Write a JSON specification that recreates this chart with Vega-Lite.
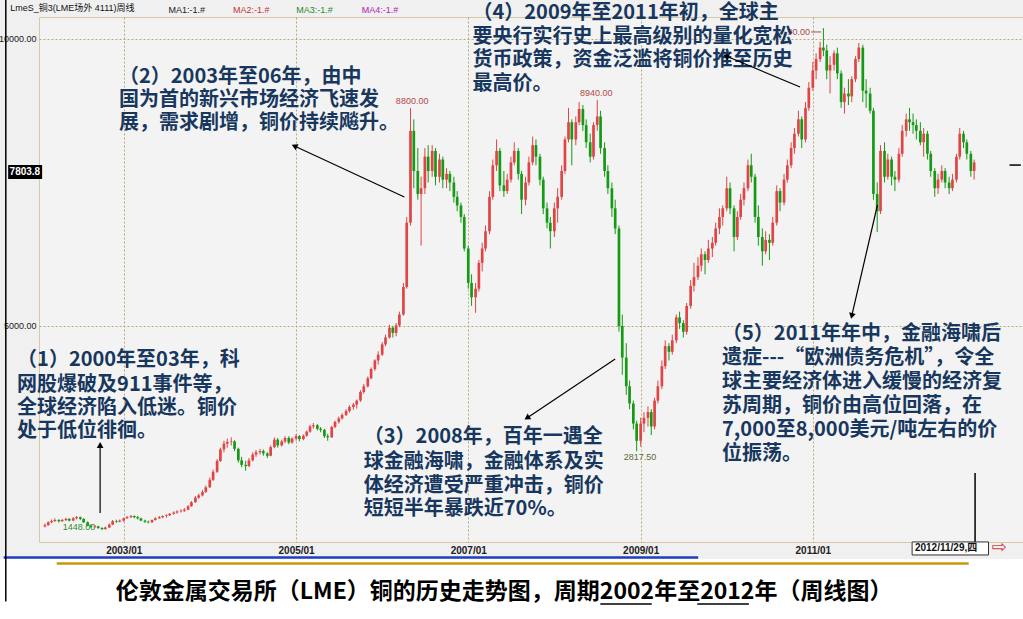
{
"$schema": "https://vega.github.io/schema/vega-lite/v6.json",
"width": 984, "height": 525,
"autosize": {"type": "none"},
"padding": {"left": 39, "top": 17, "right": 0, "bottom": 77},
"background": "#F0F0F0",
"config": {"view": {"stroke": "#D6C9A3", "fill": "#F3F3F3", "strokeWidth": 1},
"axis": {"grid": true, "gridDash": [2,2], "gridColor": "#B8A878", "gridOpacity": 1, "ticks": false, "domain": false, "title": null, "labelColor": "#202020", "labelFont": "Liberation Sans"}},
"datasets": {
"k": [
{"t":"2002-02-01","o":1510,"h":1560,"l":1490,"c":1530},
{"t":"2002-02-15","o":1530,"h":1600,"l":1520,"c":1580},
{"t":"2002-03-01","o":1580,"h":1630,"l":1565,"c":1600},
{"t":"2002-03-15","o":1600,"h":1650,"l":1590,"c":1620},
{"t":"2002-04-01","o":1620,"h":1635,"l":1575,"c":1600},
{"t":"2002-04-15","o":1600,"h":1640,"l":1585,"c":1620},
{"t":"2002-05-01","o":1620,"h":1660,"l":1600,"c":1640},
{"t":"2002-05-15","o":1640,"h":1650,"l":1595,"c":1610},
{"t":"2002-06-01","o":1610,"h":1670,"l":1600,"c":1650},
{"t":"2002-06-15","o":1650,"h":1690,"l":1630,"c":1670},
{"t":"2002-07-01","o":1670,"h":1680,"l":1620,"c":1640},
{"t":"2002-07-15","o":1640,"h":1650,"l":1570,"c":1580},
{"t":"2002-08-01","o":1580,"h":1595,"l":1510,"c":1520},
{"t":"2002-08-15","o":1520,"h":1545,"l":1485,"c":1500},
{"t":"2002-09-01","o":1500,"h":1535,"l":1480,"c":1510},
{"t":"2002-09-15","o":1510,"h":1520,"l":1465,"c":1480},
{"t":"2002-10-01","o":1480,"h":1495,"l":1448,"c":1460},
{"t":"2002-10-15","o":1460,"h":1505,"l":1455,"c":1490},
{"t":"2002-11-01","o":1490,"h":1560,"l":1480,"c":1540},
{"t":"2002-11-15","o":1540,"h":1620,"l":1530,"c":1600},
{"t":"2002-12-01","o":1600,"h":1625,"l":1570,"c":1590},
{"t":"2002-12-15","o":1590,"h":1630,"l":1580,"c":1610},
{"t":"2003-01-01","o":1610,"h":1660,"l":1590,"c":1650},
{"t":"2003-01-15","o":1650,"h":1690,"l":1640,"c":1670},
{"t":"2003-02-01","o":1670,"h":1710,"l":1655,"c":1690},
{"t":"2003-02-15","o":1690,"h":1700,"l":1650,"c":1670},
{"t":"2003-03-01","o":1670,"h":1690,"l":1630,"c":1650},
{"t":"2003-03-15","o":1650,"h":1660,"l":1600,"c":1610},
{"t":"2003-04-01","o":1610,"h":1625,"l":1570,"c":1590},
{"t":"2003-04-15","o":1590,"h":1610,"l":1560,"c":1580},
{"t":"2003-05-01","o":1580,"h":1630,"l":1570,"c":1620},
{"t":"2003-05-15","o":1620,"h":1670,"l":1610,"c":1650},
{"t":"2003-06-01","o":1650,"h":1690,"l":1640,"c":1670},
{"t":"2003-06-15","o":1670,"h":1700,"l":1650,"c":1690},
{"t":"2003-07-01","o":1690,"h":1720,"l":1660,"c":1700},
{"t":"2003-07-15","o":1700,"h":1740,"l":1690,"c":1730},
{"t":"2003-08-01","o":1730,"h":1770,"l":1710,"c":1750},
{"t":"2003-08-15","o":1750,"h":1790,"l":1730,"c":1770},
{"t":"2003-09-01","o":1770,"h":1810,"l":1750,"c":1780},
{"t":"2003-09-15","o":1780,"h":1830,"l":1760,"c":1800},
{"t":"2003-10-01","o":1800,"h":1880,"l":1790,"c":1860},
{"t":"2003-10-15","o":1860,"h":1950,"l":1850,"c":1930},
{"t":"2003-11-01","o":1930,"h":2040,"l":1920,"c":2010},
{"t":"2003-11-15","o":2010,"h":2080,"l":1990,"c":2050},
{"t":"2003-12-01","o":2050,"h":2140,"l":2030,"c":2110},
{"t":"2003-12-15","o":2110,"h":2220,"l":2090,"c":2190},
{"t":"2004-01-01","o":2190,"h":2360,"l":2180,"c":2320},
{"t":"2004-01-15","o":2320,"h":2500,"l":2300,"c":2460},
{"t":"2004-02-01","o":2460,"h":2680,"l":2440,"c":2650},
{"t":"2004-02-15","o":2650,"h":2880,"l":2630,"c":2850},
{"t":"2004-03-01","o":2850,"h":3000,"l":2800,"c":2950},
{"t":"2004-03-15","o":2950,"h":3040,"l":2880,"c":2980},
{"t":"2004-04-01","o":2980,"h":3060,"l":2920,"c":2990},
{"t":"2004-04-15","o":2990,"h":3010,"l":2820,"c":2860},
{"t":"2004-05-01","o":2860,"h":2880,"l":2620,"c":2660},
{"t":"2004-05-15","o":2660,"h":2720,"l":2540,"c":2580},
{"t":"2004-06-01","o":2580,"h":2650,"l":2480,"c":2560},
{"t":"2004-06-15","o":2560,"h":2700,"l":2540,"c":2660},
{"t":"2004-07-01","o":2660,"h":2800,"l":2640,"c":2760},
{"t":"2004-07-15","o":2760,"h":2840,"l":2720,"c":2800},
{"t":"2004-08-01","o":2800,"h":2860,"l":2760,"c":2820},
{"t":"2004-08-15","o":2820,"h":2850,"l":2740,"c":2780},
{"t":"2004-09-01","o":2780,"h":2800,"l":2700,"c":2740},
{"t":"2004-09-15","o":2740,"h":2920,"l":2730,"c":2890},
{"t":"2004-10-01","o":2890,"h":3060,"l":2870,"c":3020},
{"t":"2004-10-15","o":3020,"h":3050,"l":2880,"c":2920},
{"t":"2004-11-01","o":2920,"h":3020,"l":2900,"c":2990},
{"t":"2004-11-15","o":2990,"h":3080,"l":2960,"c":3050},
{"t":"2004-12-01","o":3050,"h":3080,"l":2940,"c":2970},
{"t":"2004-12-15","o":2970,"h":3060,"l":2950,"c":3040},
{"t":"2005-01-01","o":3040,"h":3120,"l":3000,"c":3080},
{"t":"2005-01-15","o":3080,"h":3100,"l":2990,"c":3030},
{"t":"2005-02-01","o":3030,"h":3110,"l":3010,"c":3090},
{"t":"2005-02-15","o":3090,"h":3180,"l":3070,"c":3160},
{"t":"2005-03-01","o":3160,"h":3280,"l":3140,"c":3250},
{"t":"2005-03-15","o":3250,"h":3310,"l":3210,"c":3270},
{"t":"2005-04-01","o":3270,"h":3290,"l":3180,"c":3210},
{"t":"2005-04-15","o":3210,"h":3240,"l":3150,"c":3190},
{"t":"2005-05-01","o":3190,"h":3210,"l":3050,"c":3080},
{"t":"2005-05-15","o":3080,"h":3120,"l":3000,"c":3060},
{"t":"2005-06-01","o":3060,"h":3260,"l":3050,"c":3240},
{"t":"2005-06-15","o":3240,"h":3350,"l":3220,"c":3330},
{"t":"2005-07-01","o":3330,"h":3420,"l":3300,"c":3390},
{"t":"2005-07-15","o":3390,"h":3480,"l":3370,"c":3450},
{"t":"2005-08-01","o":3450,"h":3550,"l":3430,"c":3520},
{"t":"2005-08-15","o":3520,"h":3620,"l":3490,"c":3590},
{"t":"2005-09-01","o":3590,"h":3660,"l":3540,"c":3630},
{"t":"2005-09-15","o":3630,"h":3720,"l":3560,"c":3700},
{"t":"2005-10-01","o":3700,"h":3880,"l":3680,"c":3850},
{"t":"2005-10-15","o":3850,"h":3990,"l":3820,"c":3950},
{"t":"2005-11-01","o":3950,"h":4120,"l":3930,"c":4090},
{"t":"2005-11-15","o":4090,"h":4280,"l":4070,"c":4250},
{"t":"2005-12-01","o":4250,"h":4420,"l":4220,"c":4400},
{"t":"2005-12-15","o":4400,"h":4560,"l":4330,"c":4500},
{"t":"2006-01-01","o":4500,"h":4720,"l":4480,"c":4680},
{"t":"2006-01-15","o":4680,"h":4850,"l":4650,"c":4800},
{"t":"2006-02-01","o":4800,"h":5020,"l":4780,"c":4970},
{"t":"2006-02-15","o":4970,"h":5000,"l":4800,"c":4880},
{"t":"2006-03-01","o":4880,"h":5050,"l":4820,"c":5010},
{"t":"2006-03-15","o":5010,"h":5250,"l":4980,"c":5200},
{"t":"2006-04-01","o":5200,"h":5750,"l":5180,"c":5680},
{"t":"2006-04-15","o":5680,"h":6900,"l":5650,"c":6800},
{"t":"2006-05-01","o":6800,"h":8800,"l":6750,"c":8400},
{"t":"2006-05-15","o":8400,"h":8600,"l":7400,"c":7700},
{"t":"2006-06-01","o":7700,"h":8100,"l":7200,"c":7300},
{"t":"2006-06-15","o":7300,"h":7600,"l":6400,"c":7400},
{"t":"2006-07-01","o":7400,"h":8100,"l":7300,"c":7950},
{"t":"2006-07-15","o":7950,"h":8150,"l":7500,"c":7700},
{"t":"2006-08-01","o":7700,"h":8150,"l":7600,"c":8050},
{"t":"2006-08-15","o":8050,"h":8100,"l":7450,"c":7600},
{"t":"2006-09-01","o":7600,"h":8000,"l":7500,"c":7900},
{"t":"2006-09-15","o":7900,"h":7950,"l":7400,"c":7550},
{"t":"2006-10-01","o":7550,"h":7750,"l":7400,"c":7650},
{"t":"2006-10-15","o":7650,"h":7700,"l":7350,"c":7500},
{"t":"2006-11-01","o":7500,"h":7600,"l":7150,"c":7250},
{"t":"2006-11-15","o":7250,"h":7350,"l":7000,"c":7100},
{"t":"2006-12-01","o":7100,"h":7150,"l":6800,"c":6900},
{"t":"2006-12-15","o":6900,"h":6950,"l":6300,"c":6350},
{"t":"2007-01-01","o":6350,"h":6400,"l":5650,"c":5750},
{"t":"2007-01-15","o":5750,"h":5900,"l":5350,"c":5500},
{"t":"2007-02-01","o":5500,"h":5750,"l":5230,"c":5650},
{"t":"2007-02-15","o":5650,"h":6150,"l":5600,"c":6100},
{"t":"2007-03-01","o":6100,"h":6450,"l":5950,"c":6350},
{"t":"2007-03-15","o":6350,"h":6750,"l":6300,"c":6650},
{"t":"2007-04-01","o":6650,"h":7350,"l":6600,"c":7250},
{"t":"2007-04-15","o":7250,"h":7900,"l":7200,"c":7800},
{"t":"2007-05-01","o":7800,"h":8250,"l":7700,"c":8050},
{"t":"2007-05-15","o":8050,"h":8100,"l":7350,"c":7450},
{"t":"2007-06-01","o":7450,"h":7700,"l":7250,"c":7350},
{"t":"2007-06-15","o":7350,"h":7650,"l":7300,"c":7550},
{"t":"2007-07-01","o":7550,"h":7950,"l":7500,"c":7850},
{"t":"2007-07-15","o":7850,"h":8200,"l":7800,"c":8050},
{"t":"2007-08-01","o":8050,"h":8100,"l":7550,"c":7650},
{"t":"2007-08-15","o":7650,"h":7700,"l":6950,"c":7200},
{"t":"2007-09-01","o":7200,"h":7600,"l":7100,"c":7500},
{"t":"2007-09-15","o":7500,"h":7950,"l":7450,"c":7850},
{"t":"2007-10-01","o":7850,"h":8300,"l":7800,"c":8150},
{"t":"2007-10-15","o":8150,"h":8250,"l":7800,"c":7950},
{"t":"2007-11-01","o":7950,"h":8000,"l":7450,"c":7550},
{"t":"2007-11-15","o":7550,"h":7600,"l":6950,"c":7050},
{"t":"2007-12-01","o":7050,"h":7150,"l":6700,"c":6800},
{"t":"2007-12-15","o":6800,"h":6900,"l":6350,"c":6650},
{"t":"2008-01-01","o":6650,"h":7150,"l":6550,"c":7050},
{"t":"2008-01-15","o":7050,"h":7400,"l":6800,"c":7250},
{"t":"2008-02-01","o":7250,"h":7800,"l":7200,"c":7700},
{"t":"2008-02-15","o":7700,"h":8300,"l":7650,"c":8250},
{"t":"2008-03-01","o":8250,"h":8800,"l":8200,"c":8550},
{"t":"2008-03-15","o":8550,"h":8600,"l":7800,"c":8250},
{"t":"2008-04-01","o":8250,"h":8650,"l":8150,"c":8550},
{"t":"2008-04-15","o":8550,"h":8900,"l":8500,"c":8780},
{"t":"2008-05-01","o":8780,"h":8850,"l":8400,"c":8500},
{"t":"2008-05-15","o":8500,"h":8600,"l":8100,"c":8200},
{"t":"2008-06-01","o":8200,"h":8350,"l":7850,"c":7950},
{"t":"2008-06-15","o":7950,"h":8550,"l":7900,"c":8500},
{"t":"2008-07-01","o":8500,"h":8940,"l":8400,"c":8650},
{"t":"2008-07-15","o":8650,"h":8750,"l":8000,"c":8100},
{"t":"2008-08-01","o":8100,"h":8200,"l":7600,"c":7700},
{"t":"2008-08-15","o":7700,"h":7800,"l":7300,"c":7400},
{"t":"2008-09-01","o":7400,"h":7500,"l":6900,"c":7050},
{"t":"2008-09-15","o":7050,"h":7200,"l":6600,"c":6700},
{"t":"2008-10-01","o":6700,"h":6750,"l":4900,"c":5000},
{"t":"2008-10-15","o":5000,"h":5200,"l":4150,"c":4450},
{"t":"2008-11-01","o":4450,"h":4700,"l":3800,"c":3950},
{"t":"2008-11-15","o":3950,"h":4050,"l":3550,"c":3650},
{"t":"2008-12-01","o":3650,"h":3700,"l":3200,"c":3300},
{"t":"2008-12-15","o":3300,"h":3350,"l":2817.5,"c":3000},
{"t":"2009-01-01","o":3000,"h":3400,"l":2900,"c":3300},
{"t":"2009-01-15","o":3300,"h":3500,"l":3150,"c":3400},
{"t":"2009-02-01","o":3400,"h":3600,"l":3250,"c":3500},
{"t":"2009-02-15","o":3500,"h":3550,"l":3100,"c":3250},
{"t":"2009-03-01","o":3250,"h":3750,"l":3200,"c":3700},
{"t":"2009-03-15","o":3700,"h":4050,"l":3650,"c":3950},
{"t":"2009-04-01","o":3950,"h":4400,"l":3900,"c":4300},
{"t":"2009-04-15","o":4300,"h":4750,"l":4250,"c":4650},
{"t":"2009-05-01","o":4650,"h":4700,"l":4400,"c":4550},
{"t":"2009-05-15","o":4550,"h":4850,"l":4500,"c":4750},
{"t":"2009-06-01","o":4750,"h":5200,"l":4700,"c":5150},
{"t":"2009-06-15","o":5150,"h":5250,"l":4950,"c":5050},
{"t":"2009-07-01","o":5050,"h":5100,"l":4800,"c":4900},
{"t":"2009-07-15","o":4900,"h":5400,"l":4850,"c":5350},
{"t":"2009-08-01","o":5350,"h":5800,"l":5300,"c":5700},
{"t":"2009-08-15","o":5700,"h":6100,"l":5600,"c":5850},
{"t":"2009-09-01","o":5850,"h":6200,"l":5800,"c":6050},
{"t":"2009-09-15","o":6050,"h":6350,"l":5950,"c":6250},
{"t":"2009-10-01","o":6250,"h":6300,"l":5900,"c":6150},
{"t":"2009-10-15","o":6150,"h":6500,"l":6100,"c":6350},
{"t":"2009-11-01","o":6350,"h":6550,"l":6200,"c":6450},
{"t":"2009-11-15","o":6450,"h":6800,"l":6400,"c":6700},
{"t":"2009-12-01","o":6700,"h":7050,"l":6600,"c":6900},
{"t":"2009-12-15","o":6900,"h":7100,"l":6750,"c":7050},
{"t":"2010-01-01","o":7050,"h":7600,"l":7000,"c":7400},
{"t":"2010-01-15","o":7400,"h":7500,"l":6950,"c":7050},
{"t":"2010-02-01","o":7050,"h":7100,"l":6300,"c":6550},
{"t":"2010-02-15","o":6550,"h":7000,"l":6500,"c":6900},
{"t":"2010-03-01","o":6900,"h":7300,"l":6850,"c":7200},
{"t":"2010-03-15","o":7200,"h":7500,"l":7100,"c":7400},
{"t":"2010-04-01","o":7400,"h":7900,"l":7350,"c":7800},
{"t":"2010-04-15","o":7800,"h":8000,"l":7500,"c":7600},
{"t":"2010-05-01","o":7600,"h":7650,"l":6800,"c":6900},
{"t":"2010-05-15","o":6900,"h":7100,"l":6400,"c":6550},
{"t":"2010-06-01","o":6550,"h":6700,"l":6050,"c":6300},
{"t":"2010-06-15","o":6300,"h":6650,"l":6250,"c":6500},
{"t":"2010-07-01","o":6500,"h":6600,"l":6150,"c":6450},
{"t":"2010-07-15","o":6450,"h":6900,"l":6400,"c":6800},
{"t":"2010-08-01","o":6800,"h":7450,"l":6750,"c":7350},
{"t":"2010-08-15","o":7350,"h":7400,"l":7000,"c":7150},
{"t":"2010-09-01","o":7150,"h":7650,"l":7100,"c":7550},
{"t":"2010-09-15","o":7550,"h":7900,"l":7500,"c":7800},
{"t":"2010-10-01","o":7800,"h":8200,"l":7750,"c":8100},
{"t":"2010-10-15","o":8100,"h":8450,"l":8000,"c":8350},
{"t":"2010-11-01","o":8350,"h":8750,"l":8300,"c":8600},
{"t":"2010-11-15","o":8600,"h":8650,"l":8100,"c":8250},
{"t":"2010-12-01","o":8250,"h":8900,"l":8200,"c":8800},
{"t":"2010-12-15","o":8800,"h":9250,"l":8750,"c":9150},
{"t":"2011-01-01","o":9150,"h":9600,"l":9100,"c":9450},
{"t":"2011-01-15","o":9450,"h":9750,"l":9300,"c":9650},
{"t":"2011-02-01","o":9650,"h":9950,"l":9600,"c":9850},
{"t":"2011-02-15","o":9850,"h":10190,"l":9700,"c":9800},
{"t":"2011-03-01","o":9800,"h":9900,"l":9300,"c":9450},
{"t":"2011-03-15","o":9450,"h":9700,"l":9050,"c":9550},
{"t":"2011-04-01","o":9550,"h":9800,"l":9450,"c":9750},
{"t":"2011-04-15","o":9750,"h":9850,"l":9300,"c":9400},
{"t":"2011-05-01","o":9400,"h":9450,"l":8800,"c":8900},
{"t":"2011-05-15","o":8900,"h":9150,"l":8700,"c":9050},
{"t":"2011-06-01","o":9050,"h":9300,"l":8850,"c":9000},
{"t":"2011-06-15","o":9000,"h":9350,"l":8900,"c":9300},
{"t":"2011-07-01","o":9300,"h":9700,"l":9250,"c":9650},
{"t":"2011-07-15","o":9650,"h":9930,"l":9600,"c":9850},
{"t":"2011-08-01","o":9850,"h":9900,"l":8900,"c":9100},
{"t":"2011-08-15","o":9100,"h":9300,"l":8800,"c":9050},
{"t":"2011-09-01","o":9050,"h":9150,"l":8700,"c":8750},
{"t":"2011-09-15","o":8750,"h":8800,"l":7200,"c":7300},
{"t":"2011-10-01","o":7300,"h":7500,"l":6635,"c":7000},
{"t":"2011-10-15","o":7000,"h":8150,"l":6950,"c":8050},
{"t":"2011-11-01","o":8050,"h":8200,"l":7500,"c":7600},
{"t":"2011-11-15","o":7600,"h":8000,"l":7550,"c":7900},
{"t":"2011-12-01","o":7900,"h":7950,"l":7450,"c":7600},
{"t":"2011-12-15","o":7600,"h":7700,"l":7350,"c":7550},
{"t":"2012-01-01","o":7550,"h":8100,"l":7500,"c":8000},
{"t":"2012-01-15","o":8000,"h":8500,"l":7950,"c":8400},
{"t":"2012-02-01","o":8400,"h":8700,"l":8300,"c":8600},
{"t":"2012-02-15","o":8600,"h":8800,"l":8400,"c":8550},
{"t":"2012-03-01","o":8550,"h":8700,"l":8350,"c":8500},
{"t":"2012-03-15","o":8500,"h":8600,"l":8250,"c":8400},
{"t":"2012-04-01","o":8400,"h":8550,"l":8150,"c":8200},
{"t":"2012-04-15","o":8200,"h":8450,"l":7950,"c":8350},
{"t":"2012-05-01","o":8350,"h":8400,"l":7900,"c":8000},
{"t":"2012-05-15","o":8000,"h":8050,"l":7600,"c":7700},
{"t":"2012-06-01","o":7700,"h":7750,"l":7250,"c":7400},
{"t":"2012-06-15","o":7400,"h":7650,"l":7300,"c":7550},
{"t":"2012-07-01","o":7550,"h":7800,"l":7500,"c":7700},
{"t":"2012-07-15","o":7700,"h":7750,"l":7400,"c":7500},
{"t":"2012-08-01","o":7500,"h":7600,"l":7300,"c":7400},
{"t":"2012-08-15","o":7400,"h":7650,"l":7350,"c":7550},
{"t":"2012-09-01","o":7550,"h":8000,"l":7500,"c":7950},
{"t":"2012-09-15","o":7950,"h":8450,"l":7900,"c":8350},
{"t":"2012-10-01","o":8350,"h":8400,"l":8100,"c":8200},
{"t":"2012-10-15","o":8200,"h":8250,"l":7900,"c":8000},
{"t":"2012-11-01","o":8000,"h":8050,"l":7600,"c":7700},
{"t":"2012-11-15","o":7700,"h":7900,"l":7550,"c":7850}
]
},
"encoding": {
"x": {"field": "t", "type": "temporal",
"scale": {"domain": [{"year":2002,"month":1,"date":28},{"year":2013,"month":5,"date":20}], "nice": false},
"axis": {"values": [{"year":2003,"month":1,"date":1},{"year":2005,"month":1,"date":1},{"year":2007,"month":1,"date":1},{"year":2009,"month":1,"date":1},{"year":2011,"month":1,"date":1}],
"format": "%Y/%m", "labelFontSize": 10, "labelFontWeight": "bold", "labelPadding": 3}},
"y": {"field": "v", "type": "quantitative",
"scale": {"domain": [1237, 10383], "nice": false, "zero": false},
"axis": {"values": [5000, 10000], "format": ".2f", "labelFontSize": 9, "labelPadding": 3}}
},
"layer": [
{
"data": {"values": [{"t":"2001-07-20","t2":"2013-06-10","v":942,"v2":-200}]},
"mark": {"type": "rect", "color": "#FFFFFF"},
"encoding": {"x2": {"field": "t2"}, "y2": {"field": "v2"}}
},
{
"data": {"values": [{"t":"2002-04-17","v":1499,"s":"1448.00"}]},
"mark": {"type": "text", "font": "Liberation Sans", "fontSize": 9, "color": "#2E8B2E", "align": "left", "baseline": "middle"},
"encoding": {"text": {"field": "s"}}
},
{
"data": {"name": "k"},
"transform": [{"fold": ["l"], "as": ["kk", "v"]}],
"mark": {"type": "rule", "strokeWidth": 1},
"encoding": {
"y2": {"field": "h"},
"color": {"condition": {"test": "datum.c >= datum.o", "value": "#E04444"}, "value": "#149A14"}
}
},
{
"data": {"name": "k"},
"transform": [{"fold": ["o"], "as": ["kk", "v"]}],
"mark": {"type": "bar", "size": 2.7},
"encoding": {
"y2": {"field": "c"},
"color": {"condition": {"test": "datum.c >= datum.o", "value": "#E04444"}, "value": "#149A14"}
}
},
{
"data": {"values": [
{"t":"2006-05-08","v":8920,"s":"8800.00"},
{"t":"2008-06-27","v":9059,"s":"8940.00"}
]},
"mark": {"type": "text", "font": "Liberation Sans", "fontSize": 9, "color": "#B04848", "align": "center", "baseline": "middle"},
"encoding": {"text": {"field": "s"}}
},
{
"data": {"values": [{"t":"2010-12-20","v":10122,"s":"90.00"}]},
"mark": {"type": "text", "font": "Liberation Sans", "fontSize": 9, "color": "#B04848", "align": "right", "baseline": "middle"},
"encoding": {"text": {"field": "s"}}
},
{
"data": {"values": [{"t":"2008-12-29","v":2718,"s":"2817.50"}]},
"mark": {"type": "text", "font": "Liberation Sans", "fontSize": 9, "color": "#5E6A3A", "align": "center", "baseline": "middle"},
"encoding": {"text": {"field": "s"}}
},
{
"data": {"values": [
{"t":"2001-10-06","v":4408,"s":"（1）2000年至03年，科"},
{"t":"2001-10-06","v":3972,"s":"网股爆破及911事件等，"},
{"t":"2001-10-06","v":3572,"s":"全球经济陷入低迷。铜价"},
{"t":"2001-10-06","v":3171,"s":"处于低位徘徊。"},
{"t":"2002-12-12","v":9338,"s":"（2）2003年至06年，由中"},
{"t":"2002-12-12","v":8937,"s":"国为首的新兴市场经济飞速发"},
{"t":"2002-12-12","v":8537,"s":"展，需求剧增，铜价持续飚升。"},
{"t":"2005-10-15","v":3067,"s":"（3）2008年，百年一遇全"},
{"t":"2005-10-15","v":2631,"s":"球金融海啸，金融体系及实"},
{"t":"2005-10-15","v":2213,"s":"体经济遭受严重冲击，铜价"},
{"t":"2005-10-15","v":1813,"s":"短短半年暴跌近70%。"},
{"t":"2007-01-19","v":10450,"s":"（4）2009年至2011年初，全球主"},
{"t":"2007-01-19","v":10040,"s":"要央行实行史上最高级别的量化宽松"},
{"t":"2007-01-19","v":9630,"s":"货币政策，资金泛滥将铜价推至历史"},
{"t":"2007-01-19","v":9216,"s":"最高价。"},
{"t":"2009-12-12","v":4861,"s":"（5）2011年年中，金融海啸后"},
{"t":"2009-12-12","v":4443,"s":"遗症---“欧洲债务危机”，令全"},
{"t":"2009-12-12","v":4025,"s":"球主要经济体进入缓慢的经济复"},
{"t":"2009-12-12","v":3607,"s":"苏周期，铜价由高位回落，在"},
{"t":"2009-12-12","v":3189,"s":"7,000至8,000美元/吨左右的价"},
{"t":"2009-12-12","v":2771,"s":"位振荡。"}
]},
"mark": {"type": "text", "font": "Noto Sans CJK SC", "fontSize": 20, "fontWeight": "bold", "color": "#17375E", "align": "left", "baseline": "middle"},
"encoding": {"text": {"field": "s"}}
},
{
"data": {"values": [
{"t":"2002-09-23","v":1743,"t2":"2002-09-23","v2":2927,"a":0},
{"t":"2006-04-05","v":7248,"t2":"2004-12-25","v2":8136,"a":294.7},
{"t":"2008-09-15","v":4426,"t2":"2007-09-07","v2":3398,"a":236.5},
{"t":"2010-11-08","v":9164,"t2":"2009-12-29","v2":9704,"a":292.5},
{"t":"2011-10-02","v":7108,"t2":"2011-06-15","v2":5175,"a":193.2}
]},
"layer": [
{
"mark": {"type": "rule", "color": "#000000", "strokeWidth": 1.2},
"encoding": {"x2": {"field": "t2"}, "y2": {"field": "v2"}}
},
{
"transform": [{"fold": ["t2"], "as": ["kt", "t"]}, {"fold": ["v2"], "as": ["kv", "v"]}],
"mark": {"type": "point", "shape": "triangle-up", "filled": true, "color": "#000000", "size": 45, "opacity": 1},
"encoding": {"angle": {"field": "a", "type": "quantitative", "scale": null}}
}
]
},
{
"data": {"values": [{"t":"2002-03-23","t2":"2012-10-23","v":863,"v2":863}]},
"mark": {"type": "rule", "color": "#C9960C", "strokeWidth": 2.5},
"encoding": {"x2": {"field": "t2"}, "y2": {"field": "v2"}}
},
{
"data": {"values": [{"t":"2001-08-10","t2":"2009-09-02","v":967,"v2":967}]},
"mark": {"type": "rule", "color": "#1C3FC4", "strokeWidth": 2.5},
"encoding": {"x2": {"field": "t2"}, "y2": {"field": "v2"}}
},
{
"data": {"values": [
{"t":"2008-07-14","t2":"2009-02-17","v":158,"v2":158},
{"t":"2009-08-29","t2":"2010-04-05","v":158,"v2":158},
{"t":"2012-11-19","t2":"2012-11-19","v":2440,"v2":1237},
{"t":"2013-04-14","t2":"2013-06-01","v":7803.8,"v2":7803.8},
{"t":"2001-08-19","t2":"2001-08-19","v":10700,"v2":200}
]},
"mark": {"type": "rule", "color": "#000000", "strokeWidth": 1.5},
"encoding": {"x2": {"field": "t2"}, "y2": {"field": "v2"}}
},
{
"data": {"values": [{"t":"2010-12-25","t2":"2011-02-05","v":10122,"v2":10122}]},
"mark": {"type": "rule", "color": "#B04848", "strokeWidth": 1},
"encoding": {"x2": {"field": "t2"}, "y2": {"field": "v2"}}
},
{
"data": {"values": [{"t":"2001-08-29","t2":"2002-01-20","v":7805,"v2":7561}]},
"mark": {"type": "rect", "color": "#000000"},
"encoding": {"x2": {"field": "t2"}, "y2": {"field": "v2"}}
},
{
"data": {"values": [{"t":"2012-02-26","t2":"2013-01-15","v":1238,"v2":1011}]},
"mark": {"type": "rect", "fill": "#FFFFFF", "stroke": "#303030", "strokeWidth": 1},
"encoding": {"x2": {"field": "t2"}, "y2": {"field": "v2"}}
},
{
"data": {"values": [{"t":"2001-11-08","v":7683,"s":"7803.8"}]},
"mark": {"type": "text", "font": "Liberation Sans", "fontSize": 10, "fontWeight": "bold", "color": "#FFFFFF", "align": "center", "baseline": "middle"},
"encoding": {"text": {"field": "s"}}
},
{
"data": {"values": [{"t":"2012-03-09","v":1124,"s":"2012/11/29,四"}]},
"mark": {"type": "text", "font": "Liberation Sans, Noto Sans CJK SC", "fontSize": 10, "fontWeight": "bold", "color": "#101010", "align": "left", "baseline": "middle"},
"encoding": {"text": {"field": "s"}}
},
{
"data": {"values": [{"t":"2013-03-01","v":1124,"s":"⇨"}]},
"mark": {"type": "text", "font": "DejaVu Sans", "fontSize": 18, "color": "#D04040", "align": "center", "baseline": "middle"},
"encoding": {"text": {"field": "s"}}
},
{
"data": {"values": [{"t":"2001-09-07","v":10540,"s":"LmeS_铜3(LME场外 4111)周线"}]},
"mark": {"type": "text", "font": "Liberation Sans, Noto Sans CJK SC", "fontSize": 9, "color": "#101010", "align": "left", "baseline": "middle"},
"encoding": {"text": {"field": "s"}}
},
{
"data": {"values": [
{"t":"2003-07-10","v":10505,"s":"MA1:-1.#","k":"MA1"},
{"t":"2004-04-08","v":10505,"s":"MA2:-1.#","k":"MA2"},
{"t":"2005-01-02","v":10505,"s":"MA3:-1.#","k":"MA3"},
{"t":"2005-10-06","v":10505,"s":"MA4:-1.#","k":"MA4"}
]},
"mark": {"type": "text", "font": "Liberation Sans", "fontSize": 9, "align": "left", "baseline": "middle"},
"encoding": {"text": {"field": "s"},
"color": {"field": "k", "type": "nominal", "scale": {"domain": ["MA1","MA2","MA3","MA4"], "range": ["#202020","#C83232","#1E8C1E","#B020B0"]}, "legend": null}}
},
{
"data": {"values": [{"t":"2007-06-02","v":367,"s":"伦敦金属交易所（LME）铜的历史走势图，周期2002年至2012年（周线图）"}]},
"mark": {"type": "text", "font": "Noto Sans CJK SC", "fontSize": 23, "fontWeight": "bold", "color": "#000000", "align": "center", "baseline": "middle"},
"encoding": {"text": {"field": "s"}}
}
]
}
